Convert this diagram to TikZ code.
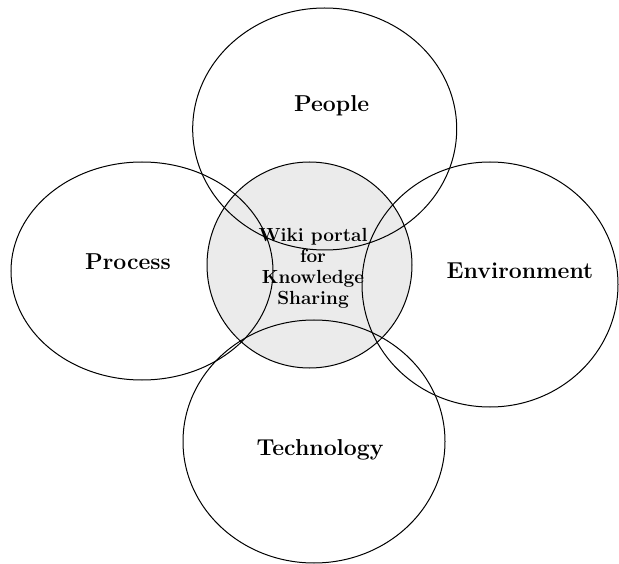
\documentclass[tikz,border=0pt]{standalone}
\usepackage{tikz}
\usetikzlibrary{positioning}
\usetikzlibrary{shapes.geometric}
\definecolor{hub}{HTML}{EBEBEB}

\begin{document}
\begin{tikzpicture}[x=1pt, y=-1pt,
    every node/.style = {inner sep=0pt, outer sep=0pt},
    ring/.style = {draw, ellipse, line width=1pt},
    tag/.style = {font=\fontsize{23}{26}\selectfont\bfseries}
    ]
    \useasboundingbox (0,0) rectangle (619,564);
    \node[ring, fill=hub, minimum width=205pt, minimum height=206pt] (W) at (309.5,265) {};
    \node[ring, minimum width=264pt, minimum height=242pt] (P) at (324.7,129) {};
    \node[ring, minimum width=262pt, minimum height=218pt] (R) at (142,271) {};
    \node[ring, minimum width=256pt, minimum height=245pt] (E) at (490,284.5) {};
    \node[ring, minimum width=262pt, minimum height=243pt] (T) at (314,441.5) {};

    \node[tag] (Pt) at (331.7,106) {People};
    \node[tag] (Rt) at (128,262) {Process};
    \node[tag] (Et) at (520,271) {Environment};
    \node[tag] (Tt) at (320,450) {Technology};
    \node[align=center, font=\fontsize{19}{21}\selectfont\bfseries] (Wt) at (313,268) {Wiki portal\\for\\Knowledge\\Sharing};
\end{tikzpicture}
\end{document}
